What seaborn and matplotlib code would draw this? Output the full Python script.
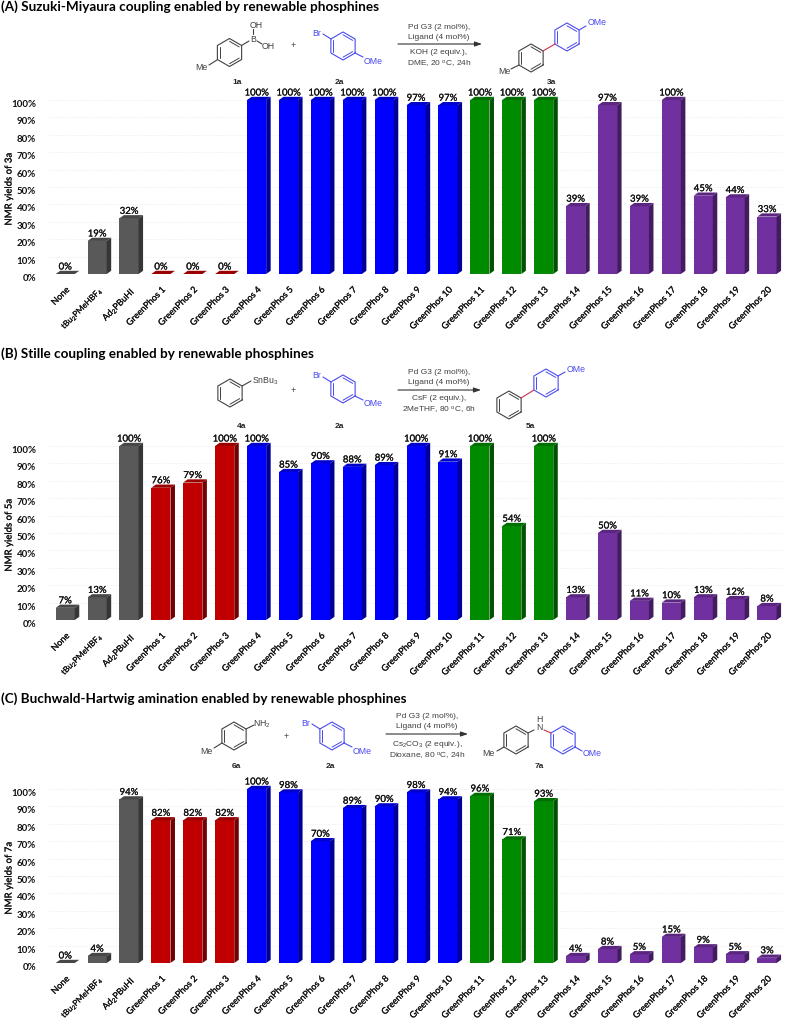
import numpy as np
import pandas as pd
import matplotlib
matplotlib.use('Agg')
import matplotlib.pyplot as plt
import matplotlib.patheffects as pe
from matplotlib.patches import Polygon
import seaborn as sns

LIGANDS = ['None', 'tBu$_2$PMeHBF$_4$', 'Ad$_2$PBuHI'] + [f'GreenPhos {i}' for i in range(1, 21)]
GROUPS = ['ref'] * 3 + ['g1'] * 3 + ['g2'] * 7 + ['g3'] * 3 + ['g4'] * 7

YIELDS_A = [0, 19, 32, 0, 0, 0, 100, 100, 100, 100, 100, 97, 97, 100, 100, 100, 39, 97, 39, 100, 45, 44, 33]
YIELDS_B = [7, 13, 100, 76, 79, 100, 100, 85, 90, 88, 89, 100, 91, 100, 54, 100, 13, 50, 11, 10, 13, 12, 8]
YIELDS_C = [0, 4, 94, 82, 82, 82, 100, 98, 70, 89, 90, 98, 94, 96, 71, 93, 4, 8, 5, 15, 9, 5, 3]

FRONT = {'ref': '#595959', 'g1': '#C00000', 'g2': '#0000FF', 'g3': '#008A00', 'g4': '#7030A0'}
SIDE = {'ref': '#363636', 'g1': '#720000', 'g2': '#000098', 'g3': '#005200', 'g4': '#431C60'}
TOP = {'ref': '#474747', 'g1': '#9A0000', 'g2': '#0000CC', 'g3': '#006E00', 'g4': '#5A2680'}

W, H = 785, 1019
BLUE = '#4A4AF0'
GREY = '#404040'
TEXT = '#111111'
# the reference text is a little heavier than Lato regular
HEAVY = [pe.withStroke(linewidth=0.15, foreground=TEXT)]

sns.set_theme(style='white')
plt.rcParams['font.family'] = ['Lato', 'DejaVu Sans']
plt.rcParams['mathtext.default'] = 'regular'

fig = plt.figure(figsize=(W / 100, H / 100), dpi=100)


def draw_panel(values, base_px, ylabel):
    # axes run 48..785 px across, 1.74 px per percent
    per_pct = 1.74
    x0, x1 = 48, 785
    height_px = 125 * per_pct
    ax = fig.add_axes([x0 / W, 1 - base_px / H, (x1 - x0) / W, height_px / H])
    df = pd.DataFrame({'ligand': LIGANDS, 'yield': values, 'group': GROUPS})
    sns.barplot(data=df, x='ligand', y='yield', hue='group', palette=FRONT, dodge=False,
                width=0.6, legend=False, saturation=1, linewidth=0, ax=ax)
    ax.set_xlim((x0 - 65.2) / 31.9, (x1 - 65.2) / 31.9)
    ax.set_ylim(0, 125)
    dx = 4.5 / 31.9
    dy = 3.2 / per_pct

    for hue, cont in zip(FRONT, ax.containers):
        for bar in cont:
            l, r, h = bar.get_x(), bar.get_x() + bar.get_width(), bar.get_height()
            ax.add_patch(Polygon([(r, 0), (r + dx, dy), (r + dx, h + dy), (r, h)], fc=SIDE[hue], ec='none'))
            ax.add_patch(Polygon([(l, h), (r, h), (r + dx, h + dy), (l + dx, h + dy)], fc=TOP[hue], ec='none'))
        for t in ax.bar_label(cont, fmt='%g%%', padding=1.8, fontsize=6.9, color=TEXT):
            t.set_path_effects(HEAVY)

    ax.set_yticks(range(0, 101, 10))
    ax.set_yticklabels([f'{v}%' for v in range(0, 101, 10)], fontsize=7, color=TEXT, va='top', weight='bold')
    ax.set_xticks(range(len(LIGANDS)))
    ticks = ax.set_xticklabels(LIGANDS, rotation=45, ha='right', rotation_mode='anchor', fontsize=6.45, color=TEXT,
                               path_effects=HEAVY)
    ticks[1].set_fontsize(5.9)  # mathtext runs long, keep it inside the figure
    ax.tick_params(axis='x', length=0, pad=8)
    ax.tick_params(axis='y', length=0, pad=8.6)
    ax.set_xlabel('')
    ax.set_ylabel('')
    ax.patch.set_alpha(0)
    sns.despine(ax=ax, left=True, bottom=True)
    ax.set_axisbelow(True)
    ax.grid(axis='y', color='#e4e4e4', linestyle=':', linewidth=0.5)
    fig.text(9 / W, 1 - (base_px - 85) / H, ylabel, rotation=90, ha='center', va='center',
             fontsize=6.9, color=TEXT, path_effects=HEAVY)
    return ax


draw_panel(YIELDS_A, 274, 'NMR yields of 3a')
draw_panel(YIELDS_B, 620, 'NMR yields of 5a')
draw_panel(YIELDS_C, 963, 'NMR yields of 7a')

# overlay in pixel coordinates for titles and the reaction schemes
ov = fig.add_axes([0, 0, 1, 1], zorder=5)
ov.set_xlim(0, W)
ov.set_ylim(H, 0)
ov.axis('off')


def ring(cx, cy, color=GREY, r=14):
    ang = np.radians(np.arange(30, 390, 60))
    xs, ys = cx + r * np.cos(ang), cy + r * np.sin(ang)
    ov.plot(np.append(xs, xs[0]), np.append(ys, ys[0]), color=color, lw=0.8)
    for i in (0, 2, 4):
        j = i + 1
        ax_, ay_ = cx + 0.8 * r * np.cos(ang[i]), cy + 0.8 * r * np.sin(ang[i])
        bx_, by_ = cx + 0.8 * r * np.cos(ang[j]), cy + 0.8 * r * np.sin(ang[j])
        ov.plot([ax_, bx_], [ay_, by_], color=color, lw=0.7)


def bond(x0, y0, x1, y1, color=GREY):
    ov.plot([x0, x1], [y0, y1], color=color, lw=0.8)


def atom(x, y, s, color=GREY, size=6.3):
    ov.text(x, y, s, color=color, fontsize=size, ha='center', va='center', family='Liberation Sans')


def conditions(cx, x0, x1, y, lines, ys):
    ov.annotate('', xy=(x1, y), xytext=(x0, y),
                arrowprops=dict(arrowstyle='-|>,head_length=0.35,head_width=0.12', color='#333333', lw=0.8,
                                shrinkA=0, shrinkB=0))
    for s, yy in zip(lines, ys):
        atom(cx, yy, s, size=6)


def cmpd(x, y, s):
    ov.text(x, y, s, fontsize=6, weight='bold', ha='center', va='center', color='#222222',
            family='Liberation Sans')


def bromoanisole(cx, cy):
    ring(cx, cy, BLUE)
    bond(cx - 12, cy - 7, cx - 20, cy - 12, BLUE)
    bond(cx + 12, cy + 7, cx + 20, cy + 11, BLUE)
    atom(cx - 26, cy - 13, 'Br', BLUE)
    atom(cx + 30, cy + 15, 'OMe', BLUE)


TITLES = [(7, '(A) Suzuki-Miyaura coupling enabled by renewable phosphines'),
          (354, '(B) Stille coupling enabled by renewable phosphines'),
          (699, '(C) Buchwald-Hartwig amination enabled by renewable phosphines')]
for y, t in TITLES:
    ov.text(1, y, t, fontsize=9.75, weight='bold', color='black', ha='left', va='center')

# scheme A
ring(229.5, 52.5)
bond(241.5, 45.5, 249, 41)
atom(253, 39, 'B')
bond(253, 34, 253, 29)
atom(256, 25, 'OH')
bond(257, 41, 262, 44)
atom(268, 46, 'OH')
bond(217, 60, 209, 65)
atom(201, 67, 'Me')
atom(293, 45, '+')
bromoanisole(343, 46)
conditions(439, 398, 482, 44, ['Pd G3 (2 mol%),', 'Ligand (4 mol%)', 'KOH (2 equiv.),', 'DME, 20 $^o$C, 24h'],
           [27, 37, 52, 64])
ring(531, 58)
ring(567, 37, BLUE)
bond(543, 51, 555, 44, '#D03050')
bond(579, 30, 586, 26, BLUE)
atom(597, 22, 'OMe', BLUE)
bond(519, 65, 511, 69)
atom(504, 71, 'Me')
cmpd(237, 82, '1a')
cmpd(339, 82, '2a')
cmpd(552, 82, '3a')

# scheme B
ring(230, 393)
bond(242, 386, 251, 381)
atom(265, 381, 'SnBu$_3$')
atom(293, 391, '+')
bromoanisole(343, 389)
conditions(439, 398, 481, 390, ['Pd G3 (2 mol%),', 'Ligand (4 mol%)', 'CsF (2 equiv.),', '2MeTHF, 80 $^o$C, 6h'],
           [373, 383, 399, 410])
ring(509, 405)
ring(546, 383, BLUE)
bond(521, 398, 534, 390, '#D03050')
bond(558, 376, 565, 372, BLUE)
atom(576, 369, 'OMe', BLUE)
cmpd(242, 426, '4a')
cmpd(339, 426, '2a')
cmpd(530, 426, '5a')

# scheme C
ring(234, 736)
bond(246, 729, 254, 725)
atom(262, 724, 'NH$_2$')
bond(222, 743, 214, 748)
atom(206, 751, 'Me')
atom(286, 736, '+')
bromoanisole(332, 736)
conditions(427, 386, 468, 734, ['Pd G3 (2 mol%),', 'Ligand (4 mol%)', 'Cs$_2$CO$_3$ (2 equiv.),', 'Dioxane, 80 $^o$C, 24h'],
           [717, 726, 744, 756])
ring(516, 740)
ring(563, 740, BLUE)
bond(528, 733, 534, 730)
bond(544, 730, 551, 733, '#D03050')
atom(539, 727, 'N')
atom(539, 719, 'H')
bond(575, 747, 582, 751, BLUE)
atom(592, 754, 'OMe', BLUE)
bond(504, 747, 497, 751)
atom(488, 754, 'Me')
cmpd(236, 767, '6a')
cmpd(330, 767, '2a')
cmpd(539, 767, '7a')

fig.savefig('out.png', dpi=100)
